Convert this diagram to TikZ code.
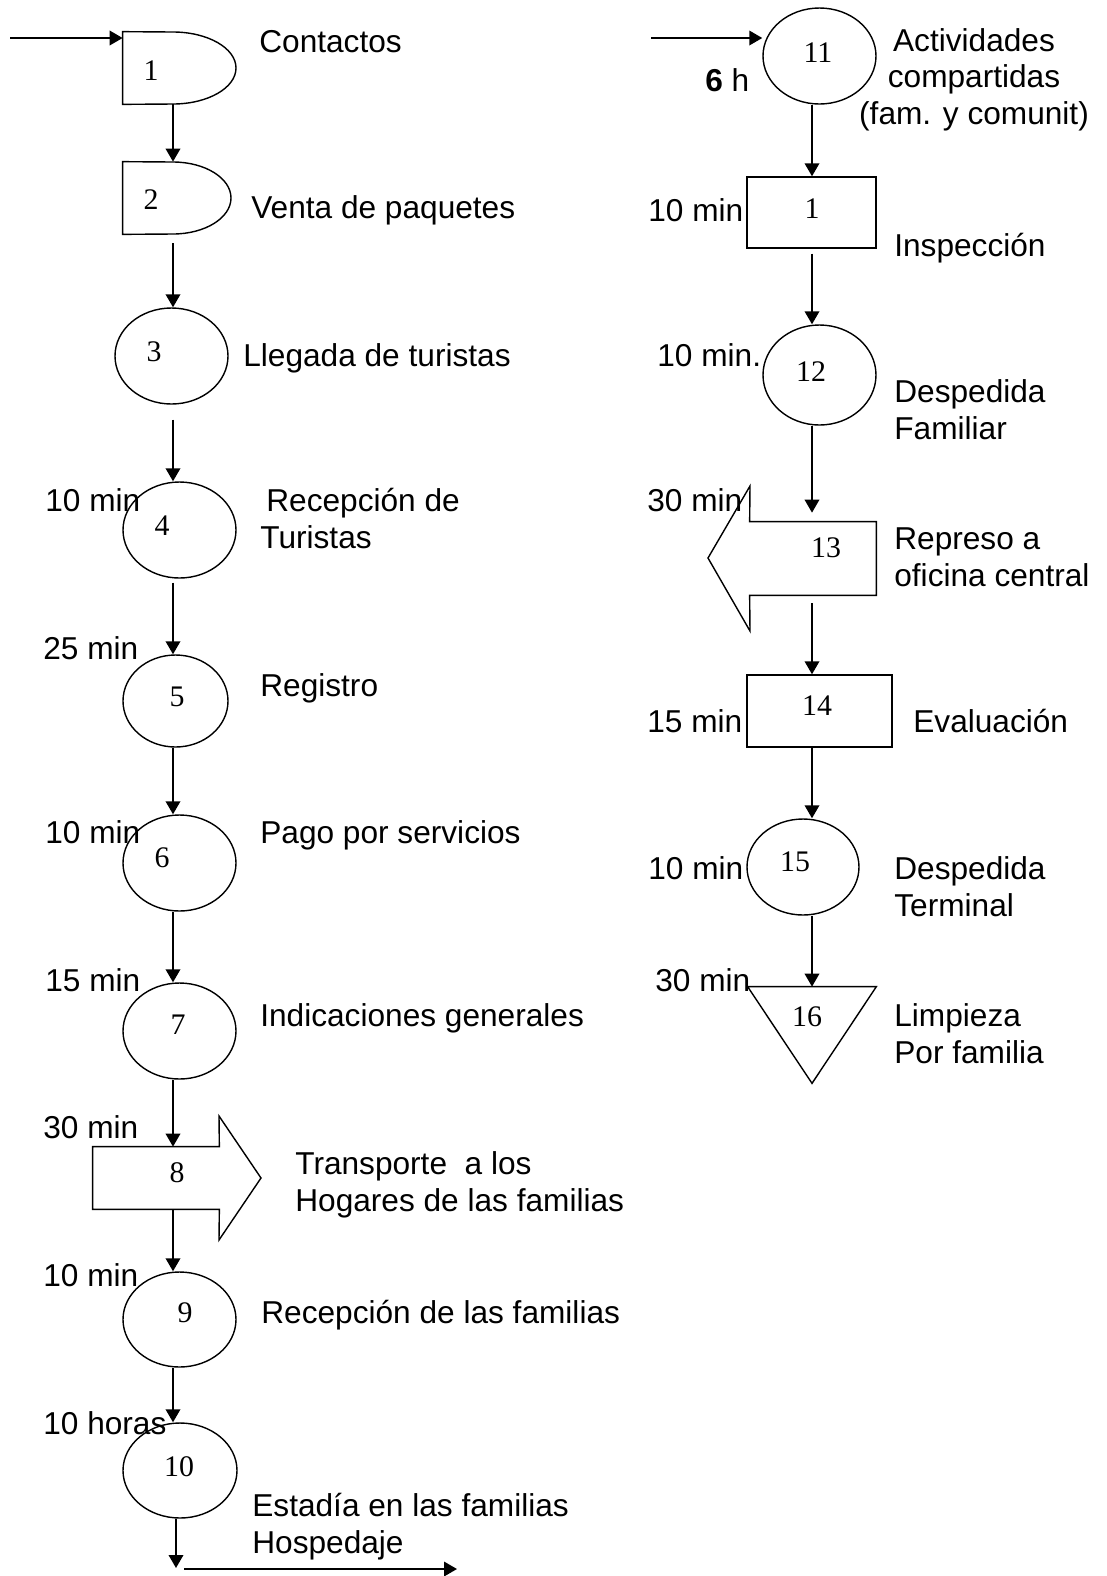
\documentclass[tikz,border=0pt]{standalone}
\usepackage{fontspec}
\setmainfont{Liberation Sans}
\newfontfamily\numfont{Liberation Serif}
\usetikzlibrary{arrows.meta,shapes.geometric,calc}
\newcommand\pxl{0.2mm}
\tikzset{
  lbl/.style={anchor=base west,align=left,inner sep=0pt,font=\fontsize{18}{20.6}\selectfont},
  tim/.style={lbl},
  num/.style={inner sep=0pt,font=\numfont\fontsize{17}{18}\selectfont},
  oper/.style 2 args={draw,ellipse,inner sep=0pt,line width=0.8pt,minimum width=#1*\pxl,minimum height=#2*\pxl},
  insp/.style 2 args={draw,rectangle,inner sep=0pt,line width=0.8pt,minimum width=#1*\pxl,minimum height=#2*\pxl},
  frame/.style 2 args={rectangle,inner sep=0pt,minimum width=#1*\pxl,minimum height=#2*\pxl},
  outl/.style={line width=0.8pt,line join=miter},
  flow/.style={line width=1.1pt,-{Triangle[length=2.6mm,width=2.9mm]}},
}
\begin{document}
\begin{tikzpicture}[x=0.2mm,y=-0.2mm]
\useasboundingbox (0,0) rectangle (1107,1576);
\coordinate (colL) at (173,0);
\coordinate (colR) at (812,0);

% === left column ===
\node[frame={113}{72}] (d1) at (179.5,68) {};
\draw[outl] (d1.north west) -- (173,32) .. controls (207.8,32) and (236,48.1) .. (236,68)
  .. controls (236,87.9) and (207.8,104) .. (173,104) -- (d1.south west) -- cycle;
\node[frame={108}{72}] (d2) at (177,198) {};
\draw[outl] (d2.north west) -- (173,162) .. controls (205,162) and (231,178.1) .. (231,198)
  .. controls (231,217.9) and (205,234) .. (173,234) -- (d2.south west) -- cycle;
\node[oper={113}{96}] (c3) at (171.5,356) {};
\node[oper={113}{96}] (c4) at (179.5,530) {};
\node[oper={105}{92}] (c5) at (175.5,701) {};
\node[oper={113}{96}] (c6) at (179.5,863) {};
\node[oper={113}{96}] (c7) at (179.5,1031) {};
\node[frame={126}{62}] (b8) at (156,1178) {};
\draw[outl] (b8.north west) -- (b8.north east) -- (219,1116) -- (261,1178) -- (219,1240)
  -- (b8.south east) -- (b8.south west) -- cycle;
\node[oper={113}{95}] (c9) at (179.5,1319.5) {};
\node[oper={114}{95}] (c10) at (180,1470.5) {};

\node[num] (n1) at (151,71) {1};
\node[num] (n2) at (151,200) {2};
\node[num] (n3) at (154,352) {3};
\node[num] (n4) at (162,526) {4};
\node[num] (n5) at (177,697) {5};
\node[num] (n6) at (162,858) {6};
\node[num] (n7) at (178,1025) {7};
\node[num] (n8) at (177,1173) {8};
\node[num] (n9) at (185,1313) {9};
\node[num] (n10) at (179,1467) {10};

\node[lbl] (l1) at (259,52) {Contactos};
\node[lbl] (l2) at (251,218) {Venta de paquetes};
\node[lbl] (l3) at (243,366) {Llegada de turistas};
\node[lbl] (l4) at (260,548) {\hspace*{1.2mm}Recepción de\\Turistas};
\node[lbl] (l5) at (260,696) {Registro};
\node[lbl] (l6) at (260,843) {Pago por servicios};
\node[lbl] (l7) at (260,1026) {Indicaciones generales};
\node[lbl] (l8) at (295,1211) {Transporte\ \ a los\\Hogares de las familias};
\node[lbl] (l9) at (261,1323) {Recepción de las familias};
\node[lbl] (l10) at (252,1553) {Estadía en las familias\\Hospedaje};

\node[tim] (t4) at (45,511) {10 min};
\node[tim] (t5) at (43,659) {25 min};
\node[tim] (t6) at (45,843) {10 min};
\node[tim] (t7) at (45,991) {15 min};
\node[tim] (t8) at (43,1138) {30 min};
\node[tim] (t9) at (43,1286) {10 min};
\node[tim] (t10) at (43,1434) {10 horas};

\coordinate (inL) at (10,38);
\coordinate (endL) at (176,1568);
\coordinate (outS) at (184,1569);
\coordinate (outE) at (457,1569);
\draw[flow] (inL) -- (inL -| d1.west);
\draw[flow] (d1.south -| colL) -- (d2.north -| colL);
\draw[flow,shorten <=1.8mm] (d2.south -| colL) -- (c3.north -| colL);
\draw[flow,shorten <=3mm] (c3.south -| colL) -- (c4.north -| colL);
\draw[flow,shorten <=0.8mm] (c4.south -| colL) -- (c5.north -| colL);
\draw[flow] (c5.south -| colL) -- (c6.north -| colL);
\draw[flow] (c6.south -| colL) -- (c7.north -| colL);
\draw[flow] (c7.south -| colL) -- (b8.north -| colL);
\draw[flow] (b8.south -| colL) -- (c9.north -| colL);
\draw[flow] (c9.south -| colL) -- (c10.north -| colL);
\draw[flow] (c10.south -| endL) -- (endL);
\draw[flow] (outS) -- (outE);

% === right column ===
\node[oper={113}{96}] (c11) at (819.5,56) {};
\node[insp={129}{71}] (r1) at (811.5,212.5) {};
\node[oper={113}{100}] (c12) at (819.5,375) {};
\node[frame={126}{73}] (b13) at (813,558.5) {};
\draw[outl] (b13.north east) -- (b13.north west) -- (750,486) -- (708,558) -- (750,631)
  -- (b13.south west) -- (b13.south east) -- cycle;
\node[insp={145}{72}] (r14) at (819.5,711) {};
\node[oper={112}{96}] (c15) at (803,867) {};
\node[frame={128}{96}] (t16) at (812,1035) {};
\draw[outl] (t16.north west) -- (t16.north east) -- (t16.south) -- cycle;

\node[num] (n11) at (818,53) {11};
\node[num] (m1) at (812,209) {1};
\node[num] (n12) at (811,372) {12};
\node[num] (n13) at (826,548) {13};
\node[num] (n14) at (817,706) {14};
\node[num] (n15) at (795,862) {15};
\node[num] (n16) at (807,1017) {16};

\node[lbl,anchor=base,align=center] (l11) at (974,124) {Actividades\\compartidas\\(fam. y comunit)};
\node[lbl] (lr1) at (894,256) {Inspección};
\node[lbl] (l12) at (894,439) {Despedida\\Familiar};
\node[lbl] (l13) at (894,586) {Represo a\\oficina central};
\node[lbl] (l14) at (913,732) {Evaluación};
\node[lbl] (l15) at (894,916) {Despedida\\Terminal};
\node[lbl] (l16) at (894,1063) {Limpieza\\Por familia};

\node[tim] (t11) at (705,91) {\textbf{6} h};
\node[tim] (tr1) at (648,221) {10 min};
\node[tim] (t12) at (657,366) {10 min.};
\node[tim] (t13) at (647,511) {30 min};
\node[tim] (t14) at (647,732) {15 min};
\node[tim] (t15) at (648,879) {10 min};
\node[tim] (t16l) at (655,991) {30 min};

\coordinate (inR) at (651,38);
\draw[flow] (inR) -- (inR -| c11.west);
\draw[flow] (c11.south -| colR) -- (r1.north -| colR);
\draw[flow,shorten <=1mm] (r1.south -| colR) -- (c12.north -| colR);
\draw[flow,shorten >=1.8mm] (c12.south -| colR) -- (b13.north -| colR);
\draw[flow,shorten <=1.6mm] (b13.south -| colR) -- (r14.north -| colR);
\draw[flow] (r14.south -| colR) -- (c15.north -| colR);
\draw[flow] (c15.south -| colR) -- (t16.north -| colR);
\end{tikzpicture}
\end{document}
